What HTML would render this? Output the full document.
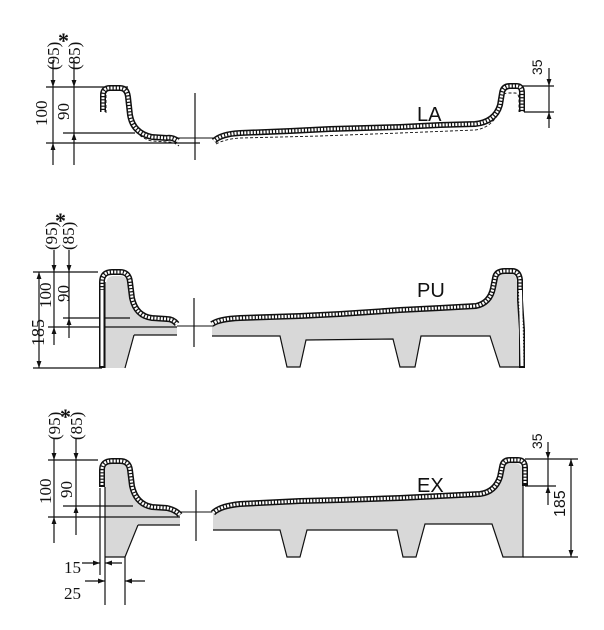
<!DOCTYPE html>
<html><head><meta charset="utf-8"><style>
html,body{margin:0;padding:0;background:#fff;}
svg{display:block;}
text{font-family:"Liberation Serif",serif;fill:#111;}
.s{font-family:"Liberation Sans",sans-serif;}
</style></head><body>
<svg width="604" height="630" viewBox="0 0 604 630" xmlns="http://www.w3.org/2000/svg">
<defs>
<marker id="a" viewBox="0 0 10 10" refX="10" refY="5" markerWidth="7" markerHeight="9" orient="auto-start-reverse" markerUnits="userSpaceOnUse"><path d="M0,1.5 L10,5 L0,8.5 z" fill="#111"/></marker>
</defs>
<g fill="none" stroke="#111" stroke-width="1.2">
<line x1="46" y1="87" x2="128" y2="87"/>
<line x1="46" y1="143" x2="200" y2="143"/>
<line x1="63" y1="133" x2="135" y2="133"/>
<line x1="53" y1="60" x2="53" y2="87" marker-end="url(#a)"/>
<line x1="53" y1="87" x2="53" y2="143"/>
<line x1="53" y1="165" x2="53" y2="143" marker-end="url(#a)"/>
<line x1="74" y1="60" x2="74" y2="87" marker-end="url(#a)"/>
<line x1="74" y1="87" x2="74" y2="133"/>
<line x1="74" y1="165" x2="74" y2="133" marker-end="url(#a)"/>
<line x1="195" y1="93" x2="195" y2="160"/>
<line x1="177" y1="138" x2="215" y2="138" stroke-width="0.9"/>
<path d="M106,113 L106,94 Q106,90 112,90 L124,90 Q130,90 130,100 L131,118 Q134,137 152,141 L168,142 Q174,142 179,146" stroke-dasharray="3 2" stroke-width="0.9"/>
<path d="M216,144 Q225,139 240,138 L320,136 L400,133 L475,130 Q492,128 500,110 L502,97 Q503,93 508,93 L515,93 Q519,93 519,100 L519,112" stroke-dasharray="3 2" stroke-width="0.9"/>
<g stroke-width="6" stroke-linejoin="round">
<path d="M103,112 L103,95 Q103,88 110,88 L120,88 Q127,88 128,97 L130,115 Q133,133 152,137 L167,138 Q172,137 178,141"/>
<path d="M214,141 Q221,134 240,133 L290,131 L330,129 L400,127 L440,125 L475,124 Q495,122 500,105 L502,93 Q503,86 510,86 L517,86 Q522,86 522,93 L522,112"/>
</g>
<g stroke="#fff" stroke-width="3" stroke-dasharray="2 1.2" stroke-linejoin="round">
<path d="M103,112 L103,95 Q103,88 110,88 L120,88 Q127,88 128,97 L130,115 Q133,133 152,137 L167,138 Q172,137 178,141"/>
<path d="M214,141 Q221,134 240,133 L290,131 L330,129 L400,127 L440,125 L475,124 Q495,122 500,105 L502,93 Q503,86 510,86 L517,86 Q522,86 522,93 L522,112"/>
</g>
<line x1="522" y1="86" x2="554" y2="86"/>
<line x1="524" y1="112" x2="554" y2="112"/>
<line x1="549" y1="68" x2="549" y2="86" marker-end="url(#a)"/>
<line x1="549" y1="86" x2="549" y2="112"/>
<line x1="549" y1="128" x2="549" y2="112" marker-end="url(#a)"/>

<path d="M106,368 L106,285 Q106,276 114,276 L120,276 Q127,276 128,285 L130,300 Q134,318 152,321 L168,322 Q174,323 177,327 L177,335 L134,335 L125,368 Z" fill="#d8d8d8" stroke="none"/>
<path d="M212,326 Q220,321 240,320 L300,318 L400,312 L476,308 Q492,306 495,290 L497,280 Q498,274 505,274 L511,274 Q516,274 517,282 L518,300 L520,330 L520,367 L500,367 L490,336 L421,336 L415,367 L400,367 L393,339 L306,340 L300,367 L287,367 L280,336 L212,336 Z" fill="#d8d8d8" stroke="none"/>
<line x1="33" y1="272" x2="98" y2="272"/>
<line x1="33" y1="368" x2="102" y2="368"/>
<line x1="48" y1="327" x2="177" y2="327"/>
<line x1="63" y1="318" x2="130" y2="318"/>
<line x1="39" y1="272" x2="39" y2="368" marker-start="url(#a)" marker-end="url(#a)"/>
<line x1="54" y1="250" x2="54" y2="272" marker-end="url(#a)"/>
<line x1="54" y1="272" x2="54" y2="327"/>
<line x1="54" y1="345" x2="54" y2="327" marker-end="url(#a)"/>
<line x1="69" y1="250" x2="69" y2="272" marker-end="url(#a)"/>
<line x1="69" y1="272" x2="69" y2="318"/>
<line x1="69" y1="338" x2="69" y2="318" marker-end="url(#a)"/>
<line x1="194" y1="298" x2="194" y2="347"/>
<line x1="177" y1="326" x2="214" y2="326" stroke-width="0.9"/>
<path d="M134,335 L177,335"/>
<path d="M134,335 L125,368"/>
<line x1="105" y1="282" x2="105" y2="368"/>
<path d="M212,336 L280,336 L287,367 L300,367 L306,340 L393,339 L400,367 L415,367 L421,336 L490,336 L500,367 L520,367"/>
<g stroke-width="6" stroke-linejoin="round">
<path d="M102,368 L102,282 Q102,272 112,272 L120,272 Q129,272 130,282 L132,298 Q136,316 152,318 L167,319 Q173,319 177,324"/>
<path d="M212,324 Q219,319 240,318 L300,316 L340,314 L400,310 L440,308 L476,306 Q490,303 493,288 L495,278 Q496,271 505,271 L512,271 Q519,271 520,280 L520,300 L522,330 L522,368"/>
</g>
<g stroke="#fff" stroke-width="3" stroke-dasharray="2 1.2" stroke-linejoin="round">
<path d="M102,366 L102,282 Q102,272 112,272 L120,272 Q129,272 130,282 L132,298 Q136,316 152,318 L167,319 Q173,319 177,324"/>
<path d="M212,324 Q219,319 240,318 L300,316 L340,314 L400,310 L440,308 L476,306 Q490,303 493,288 L495,278 Q496,271 505,271 L512,271 Q519,271 520,280 L520,300 L522,330 L522,366"/>
</g>
<g stroke="#fff" stroke-width="3"><line x1="102" y1="290" x2="102" y2="366"/><line x1="520.5" y1="290" x2="522" y2="366"/></g>

<path d="M105,557 L105,470 Q106,463 112,463 L120,463 Q127,463 128,472 L130,488 Q134,506 152,509 L168,510 Q175,511 180,516 L180,525 L138,525 L125,557 Z" fill="#d8d8d8" stroke="none"/>
<path d="M213,514 Q220,508 240,506 L300,503 L400,499 L480,496 Q496,494 500,478 L502,468 Q503,463 508,463 L515,463 Q520,463 523,470 L523,557 L503,557 L492,524 L425,524 L416,557 L403,557 L397,530 L307,530 L300,557 L287,557 L280,530 L213,530 Z" fill="#d8d8d8" stroke="none"/>
<line x1="48" y1="460" x2="98" y2="460"/>
<line x1="48" y1="517" x2="180" y2="517"/>
<line x1="63" y1="506" x2="133" y2="506"/>
<line x1="54" y1="438" x2="54" y2="460" marker-end="url(#a)"/>
<line x1="54" y1="460" x2="54" y2="517"/>
<line x1="54" y1="543" x2="54" y2="517" marker-end="url(#a)"/>
<line x1="76" y1="438" x2="76" y2="460" marker-end="url(#a)"/>
<line x1="76" y1="460" x2="76" y2="506"/>
<line x1="76" y1="535" x2="76" y2="506" marker-end="url(#a)"/>
<line x1="196" y1="490" x2="196" y2="541"/>
<line x1="180" y1="512" x2="215" y2="512" stroke-width="0.9"/>
<line x1="100" y1="488" x2="100" y2="575"/>
<line x1="105" y1="487" x2="105" y2="605"/>
<line x1="125" y1="557" x2="125" y2="605"/>
<path d="M138,525 L180,525"/>
<path d="M138,525 L125,557 L105,557"/>
<path d="M213,530 L280,530 L287,557 L300,557 L307,530 L397,530 L403,557 L416,557 L425,524 L492,524 L503,557 L523,557 L523,480"/>
<line x1="82" y1="563" x2="100" y2="563" marker-end="url(#a)"/>
<line x1="122" y1="563" x2="105" y2="563" marker-end="url(#a)"/>
<line x1="85" y1="581" x2="105" y2="581" marker-end="url(#a)"/>
<line x1="145" y1="581" x2="125" y2="581" marker-end="url(#a)"/>
<g stroke-width="6" stroke-linejoin="round">
<path d="M102,487 L102,470 Q102,461 112,461 L120,461 Q129,461 130,470 L132,486 Q136,504 152,507 L167,508 Q176,510 180,515"/>
<path d="M213,513 Q220,506 240,504 L300,501 L340,500 L400,498 L440,496 L480,494 Q495,492 500,477 L502,467 Q503,460 510,460 L518,460 Q525,460 525,468 L525,486"/>
</g>
<g stroke="#fff" stroke-width="3" stroke-dasharray="2 1.2" stroke-linejoin="round">
<path d="M102,485 L102,470 Q102,461 112,461 L120,461 Q129,461 130,470 L132,486 Q136,504 152,507 L167,508 Q176,510 180,515"/>
<path d="M213,513 Q220,506 240,504 L300,501 L340,500 L400,498 L440,496 L480,494 Q495,492 500,477 L502,467 Q503,460 510,460 L518,460 Q525,460 525,468 L525,484"/>
</g>
<line x1="525" y1="459" x2="578" y2="459"/>
<line x1="525" y1="486" x2="556" y2="486"/>
<line x1="523" y1="557" x2="578" y2="557"/>
<line x1="548" y1="442" x2="548" y2="459" marker-end="url(#a)"/>
<line x1="548" y1="459" x2="548" y2="486"/>
<line x1="548" y1="505" x2="548" y2="486" marker-end="url(#a)"/>
<line x1="571" y1="459" x2="571" y2="557" marker-start="url(#a)" marker-end="url(#a)"/>
</g>

<g font-size="17">
<text transform="translate(47,126) rotate(-90)">100</text>
<text transform="translate(69,120) rotate(-90)">90</text>
<text transform="translate(59,70) rotate(-90)">(95)</text>
<text transform="translate(80,70) rotate(-90)">(85)</text>
<text transform="translate(44,346) rotate(-90)" font-size="18">185</text>
<text transform="translate(51,308) rotate(-90)">100</text>
<text transform="translate(69,302) rotate(-90)">90</text>
<text transform="translate(57,250) rotate(-90)">(95)</text>
<text transform="translate(74,250) rotate(-90)">(85)</text>
<text transform="translate(51,504) rotate(-90)">100</text>
<text transform="translate(72,498) rotate(-90)">90</text>
<text transform="translate(60,440) rotate(-90)">(95)</text>
<text transform="translate(82,440) rotate(-90)">(85)</text>
<text x="64" y="573">15</text>
<text x="64" y="599">25</text>
<text transform="translate(565,517) rotate(-90)" class="s" font-size="16">185</text>
<text transform="translate(542,449) rotate(-90)" class="s" font-size="14">35</text>
<text transform="translate(542,75) rotate(-90)" class="s" font-size="14">35</text>
</g>
<g font-size="22" font-weight="bold">
<text x="58" y="48">*</text><text x="55" y="228">*</text><text x="60" y="424">*</text>
</g>
<g class="s" font-size="20">
<text x="417" y="121" class="s">LA</text>
<text x="417" y="297" class="s">PU</text>
<text x="417" y="492" class="s">EX</text>
</g>
</svg>
</body></html>
